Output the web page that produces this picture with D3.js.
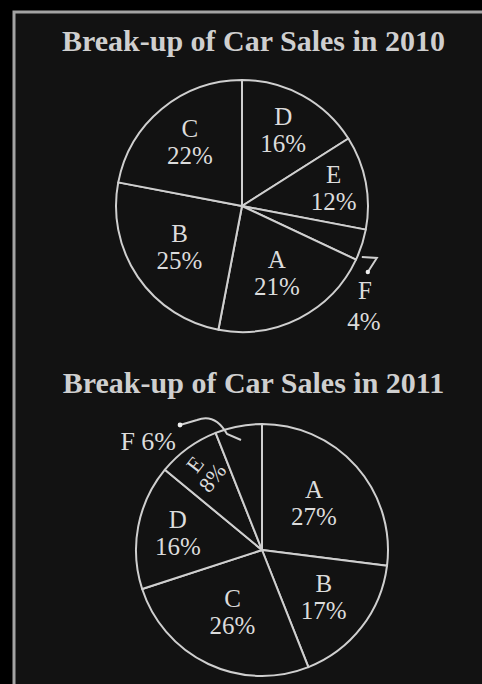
<!DOCTYPE html>
<html><head><meta charset="utf-8">
<script src="https://cdn.jsdelivr.net/npm/d3@7"></script>
<style>
html,body{margin:0;padding:0;background:#000;}
svg{display:block;}
</style></head>
<body>
<script>
// ---- data ----
const titles = ["Break-up of Car Sales in 2010", "Break-up of Car Sales in 2011"];
const categories2010 = ["D", "E", "F", "A", "B", "C"];
const values2010 = [16, 12, 4, 21, 25, 22];
const categories2011 = ["A", "B", "C", "D", "E", "F"];
const values2011 = [27, 17, 26, 16, 8, 6];

const W = 482, H = 684;
const svg = d3.select("body").append("svg").attr("width", W).attr("height", H);
svg.append("rect").attr("width", W).attr("height", H).attr("fill", "#000");
svg.append("rect").attr("x", 14).attr("y", 12).attr("width", W + 20).attr("height", H + 20)
  .attr("fill", "#121212").attr("stroke", "#a3a3a3").attr("stroke-width", 3);

const FONT = "'Liberation Serif','DejaVu Serif',serif";
const TXT = "#dcdcdc", LINE = "#cfcfcf";

// label placement (fraction of radius) per chart
const labelPos = [
  {D: 0.68, E: 0.74, A: 0.61, B: 0.60, C: 0.65},
  {A: 0.55, B: 0.62, C: 0.55, D: 0.68, E: 0.76}
];

const charts = [
  {title: titles[0], cats: categories2010, vals: values2010, cx: 242, cy: 206, r: 126, ty: 51},
  {title: titles[1], cats: categories2011, vals: values2011, cx: 262, cy: 550, r: 126, ty: 393}
];

const pie = d3.pie().sort(null).value(d => d.value);

charts.forEach((c, ci) => {
  svg.append("text").attr("x", 253.5).attr("y", c.ty).attr("text-anchor", "middle")
    .attr("font-family", FONT).attr("font-weight", "bold").attr("font-size", 30)
    .attr("fill", "#cfcfcf").text(c.title);

  const data = c.cats.map((k, i) => ({cat: k, value: c.vals[i]}));
  const arcs = pie(data);
  const arc = d3.arc().innerRadius(0).outerRadius(c.r);
  const g = svg.append("g").attr("transform", `translate(${c.cx},${c.cy})`);
  g.selectAll("path").data(arcs).join("path")
    .attr("d", arc).attr("fill", "#121212")
    .attr("stroke", LINE).attr("stroke-width", 2).attr("stroke-linejoin", "round");

  arcs.forEach(a => {
    if (a.data.cat === "F") return;
    const lr = c.r * labelPos[ci][a.data.cat];
    const [x, y] = d3.arc().innerRadius(lr).outerRadius(lr).centroid(a);
    const rot = (ci === 1 && a.data.cat === "E") ? -52 : 0;
    const t = g.append("g").attr("transform", `translate(${x},${y}) rotate(${rot})`);
    t.append("text").attr("y", -6).attr("text-anchor", "middle")
      .attr("font-family", FONT).attr("font-size", rot ? 22 : 25).attr("fill", TXT).text(a.data.cat);
    t.append("text").attr("y", rot ? 16 : 21).attr("text-anchor", "middle")
      .attr("font-family", FONT).attr("font-size", rot ? 22 : 25).attr("fill", TXT).text(a.data.value + "%");
  });

  // leader for F
  const f = arcs.find(a => a.data.cat === "F");
  const mid = (f.startAngle + f.endAngle) / 2;
  if (ci === 0) {
    const sx = Math.sin(mid) * c.r, sy = -Math.cos(mid) * c.r + 12;
    g.append("path").attr("d", `M${sx},${sy} L${sx + 15},${sy + 1} L${sx + 6},${sy + 15}`)
      .attr("fill", "none").attr("stroke", LINE).attr("stroke-width", 2);
    g.append("circle").attr("cx", sx + 6).attr("cy", sy + 15).attr("r", 2.2).attr("fill", "#eee");
    g.append("text").attr("x", sx + 3).attr("y", sy + 42).attr("text-anchor", "middle")
      .attr("font-family", FONT).attr("font-size", 25).attr("fill", TXT).text("F");
    g.append("text").attr("x", sx + 2).attr("y", sy + 73).attr("text-anchor", "middle")
      .attr("font-family", FONT).attr("font-size", 25).attr("fill", TXT).text(f.data.value + "%");
  } else {
    const sx = Math.sin(mid) * (c.r - 14), sy = -Math.cos(mid) * (c.r - 14);
    g.append("path").attr("d", `M${sx},${sy} L${sx - 14},${sy - 6} Q${sx - 26},${sy - 27} ${sx - 44},${sy - 20} L${sx - 61},${sy - 15}`)
      .attr("fill", "none").attr("stroke", LINE).attr("stroke-width", 2);
    g.append("circle").attr("cx", sx - 61).attr("cy", sy - 15).attr("r", 2.4).attr("fill", "#eee");
    g.append("text").attr("x", sx - 65).attr("y", sy + 10).attr("text-anchor", "end")
      .attr("font-family", FONT).attr("font-size", 26).attr("fill", TXT).text("F " + f.data.value + "%");
  }
});
</script>
</body></html>
